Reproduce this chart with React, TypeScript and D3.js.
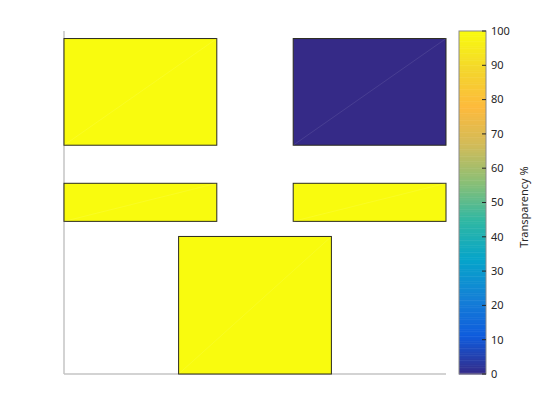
import { useEffect, useRef } from "react"
import * as d3 from "d3"

// patch geometry in data units, plus transparency %
const rectX0 = [0, 6, 0, 6, 3]
const rectX1 = [4, 10, 4, 10, 7]
const rectY0 = [6.67, 6.67, 4.45, 4.45, 0]
const rectY1 = [9.78, 9.78, 5.56, 5.56, 4.01]
const rectTransparency = [100, 0, 100, 100, 100]

const xDomain = [0, 10]
const yDomain = [0, 10]
const cbarTicks = [0, 10, 20, 30, 40, 50, 60, 70, 80, 90, 100]

// parula-like colormap stops
const parulaStops = [
  "#352a87", "#0f5cdd", "#1481d6", "#06a4ca", "#2eb7a4", "#87bf77",
  "#d1bb59", "#fdba3c", "#f4d62c", "#f9fb0e",
]

export default function App() {
  const svgRef = useRef<SVGSVGElement>(null)

  useEffect(() => {
    if (!svgRef.current) return
    const svg = d3.select(svgRef.current)
    svg.selectAll("*").remove()

    const left = 64
    const right = 446
    const top = 31
    const bottom = 374
    const font = "'Noto Sans', 'DejaVu Sans', sans-serif"

    const x = d3.scaleLinear().domain(xDomain).range([left, right])
    const y = d3.scaleLinear().domain(yDomain).range([bottom, top])
    const color = d3
      .scaleLinear<string>()
      .domain(parulaStops.map((_, i) => (i / (parulaStops.length - 1)) * 100))
      .range(parulaStops)
      .interpolate(d3.interpolateRgb)

    // axes lines
    svg.append("line").attr("x1", left).attr("x2", left).attr("y1", top).attr("y2", bottom)
      .attr("stroke", "#c4c4c4").attr("stroke-width", 1.5)
    svg.append("line").attr("x1", left).attr("x2", right).attr("y1", bottom).attr("y2", bottom)
      .attr("stroke", "#c4c4c4").attr("stroke-width", 1.5)

    const data = rectX0.map((_, i) => ({
      x0: rectX0[i], x1: rectX1[i], y0: rectY0[i], y1: rectY1[i], t: rectTransparency[i],
    }))

    const g = svg.append("g")
    g.selectAll("rect.patch")
      .data(data)
      .enter()
      .append("rect")
      .attr("class", "patch")
      .attr("x", (d) => x(d.x0))
      .attr("y", (d) => y(d.y1))
      .attr("width", (d) => x(d.x1) - x(d.x0))
      .attr("height", (d) => y(d.y0) - y(d.y1))
      .attr("fill", (d) => color(d.t))
      .attr("stroke", "#2a2a1e")
      .attr("stroke-width", 1)

    // faint triangulation seam
    g.selectAll("line.seam")
      .data(data)
      .enter()
      .append("line")
      .attr("class", "seam")
      .attr("x1", (d) => x(d.x0))
      .attr("y1", (d) => y(d.y0))
      .attr("x2", (d) => x(d.x1))
      .attr("y2", (d) => y(d.y1))
      .attr("stroke", "#ffffff")
      .attr("stroke-opacity", 0.12)
      .attr("stroke-width", 0.8)

    // colorbar
    const cbX = 459
    const cbW = 27
    const cy = d3.scaleLinear().domain([0, 100]).range([bottom, top])
    const steps = d3.range(0, 100, 0.5)
    svg.append("g")
      .selectAll("rect")
      .data(steps)
      .enter()
      .append("rect")
      .attr("x", cbX)
      .attr("width", cbW)
      .attr("y", (d) => cy(d + 0.5))
      .attr("height", (d) => cy(d) - cy(d + 0.5) + 0.5)
      .attr("fill", (d) => color(d + 0.25))
    svg.append("rect").attr("x", cbX).attr("y", top).attr("width", cbW).attr("height", bottom - top)
      .attr("fill", "none").attr("stroke", "#8a8a8a").attr("stroke-width", 1)

    const tk = svg.append("g")
    tk.selectAll("line")
      .data(cbarTicks)
      .enter()
      .append("line")
      .attr("x1", cbX + cbW - 4)
      .attr("x2", cbX + cbW)
      .attr("y1", (d) => cy(d))
      .attr("y2", (d) => cy(d))
      .attr("stroke", "#262626")
    tk.selectAll("text")
      .data(cbarTicks)
      .enter()
      .append("text")
      .attr("x", cbX + cbW + 5)
      .attr("y", (d) => cy(d))
      .attr("dy", "0.35em")
      .attr("font-family", font)
      .attr("font-size", 11)
      .attr("fill", "#262626")
      .text((d) => d)

    svg.append("text")
      .attr("transform", `translate(528, 207) rotate(-90)`)
      .attr("text-anchor", "middle")
      .attr("font-family", font)
      .attr("font-size", 11)
      .attr("fill", "#262626")
      .text("Transparency %")
  }, [])

  return (
    <svg
      ref={svgRef}
      width={560}
      height={420}
      style={{ position: "absolute", left: 0, top: 0, background: "#fff" }}
    />
  )
}
